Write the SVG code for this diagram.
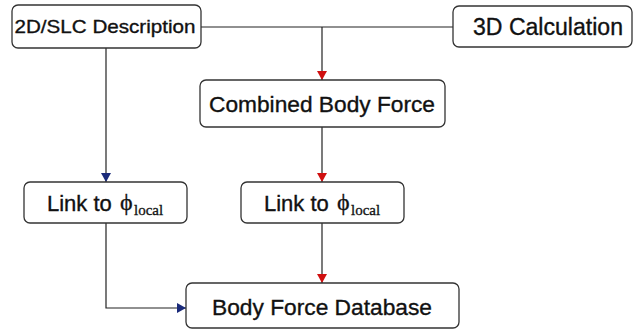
<svg xmlns="http://www.w3.org/2000/svg" width="636" height="330" viewBox="0 0 636 330">
<defs>
<style>
.box{fill:#fff;stroke:#333;stroke-width:1.3}
.t{font-family:"Liberation Sans",Arial,sans-serif;fill:#111;stroke:#111;stroke-width:0.35;text-anchor:middle}
.s{font-family:"Liberation Sans",Arial,sans-serif;fill:#111;stroke:#111;stroke-width:0.35}
.ln{fill:none;stroke:#222;stroke-width:1.2}
.phi{font-family:"Liberation Serif","Times New Roman",serif;fill:#111;stroke:#111;stroke-width:0.3}
</style>
<marker id="red" markerWidth="10" markerHeight="10" refX="9" refY="5" orient="auto" markerUnits="userSpaceOnUse">
<path d="M0,0 L9,5 L0,10 Z" fill="#d01010"/>
</marker>
<marker id="blue" markerWidth="10" markerHeight="10" refX="9" refY="5" orient="auto" markerUnits="userSpaceOnUse">
<path d="M0,0 L9,5 L0,10 Z" fill="#1a2a7a"/>
</marker>
</defs>
<rect width="636" height="330" fill="#fff"/>
<g id="connectors">
<path class="ln" d="M201,27 H453"/>
<path class="ln" d="M322,27 V80" marker-end="url(#red)"/>
<path class="ln" d="M322,127 V182" marker-end="url(#red)"/>
<path class="ln" d="M322,223 V283" marker-end="url(#red)"/>
<path class="ln" d="M106,48 V182" marker-end="url(#blue)"/>
<path class="ln" d="M106,223 V308 H186" marker-end="url(#blue)"/>
</g>
<g id="n2d">
<rect class="box" x="12" y="5" width="189" height="43" rx="6"/>
<text class="t" x="105" y="33" font-size="19" textLength="181" lengthAdjust="spacingAndGlyphs">2D/SLC Description</text>
</g>
<g id="n3d">
<rect class="box" x="453" y="6" width="179" height="41" rx="6"/>
<text class="t" x="548" y="35" font-size="23" textLength="150" lengthAdjust="spacingAndGlyphs">3D Calculation</text>
</g>
<g id="combined">
<rect class="box" x="200" y="80" width="245" height="47" rx="6"/>
<text class="t" x="322" y="112" font-size="22.5" textLength="226" lengthAdjust="spacingAndGlyphs">Combined Body Force</text>
</g>
<g id="link1">
<rect class="box" x="24" y="182" width="163" height="41" rx="6"/>
<text class="s" x="47" y="211" font-size="22">Link to</text>
<text class="phi" x="120" y="210" font-size="24">ϕ</text>
<text class="phi" x="134" y="215" font-size="15">local</text>
</g>
<g id="link2">
<rect class="box" x="241" y="182" width="163" height="41" rx="6"/>
<text class="s" x="264" y="211" font-size="22">Link to</text>
<text class="phi" x="337" y="210" font-size="24">ϕ</text>
<text class="phi" x="351" y="215" font-size="15">local</text>
</g>
<g id="db">
<rect class="box" x="186" y="283" width="273" height="45" rx="6"/>
<text class="t" x="322" y="315" font-size="22.5" textLength="220" lengthAdjust="spacingAndGlyphs">Body Force Database</text>
</g>
</svg>
